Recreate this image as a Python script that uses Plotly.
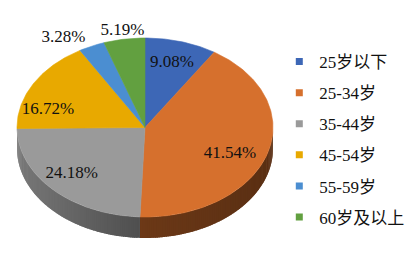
import numpy as np
import plotly.graph_objects as go

# ---- data ----
categories = ["25岁以下", "25-34岁", "35-44岁", "45-54岁", "55-59岁", "60岁及以上"]
shares = [9.08, 41.54, 24.18, 16.72, 3.28, 5.19]
labels = ["9.08%", "41.54%", "24.18%", "16.72%", "3.28%", "5.19%"]

# ---- style ----
colors = ["#3D67B6", "#D6702D", "#9A9A9A", "#E8A900", "#4B8ED1", "#62A040"]
label_r = [0.75, 0.72, 0.80, 0.87, 1.10, 1.09]
label_shift = [(0, 0), (-3, 7), (0, -4), (0, 20), (-23, 0), (0, 0)]
CX, CY, RX, RY, DEPTH = 145, 127.5, 128, 89.5, 21
W, H = 420, 280
SERIF = "Liberation Serif"


def pt(theta_deg, r=1.0, dy=0.0):
    t = np.radians(theta_deg)
    return CX + r * RX * np.sin(t), CY - r * RY * np.cos(t) + dy


def shade(hexcol, f):
    h = hexcol.lstrip("#")
    rgb = [int(h[i:i + 2], 16) for i in (0, 2, 4)]
    return "rgb({},{},{})".format(*[max(0, min(255, int(round(c * f)))) for c in rgb])


total = sum(shares)
bounds = np.concatenate([[0], np.cumsum(shares) / total * 360])

fig = go.Figure()

# side walls (visible lower half: 90..270 deg clockwise from top)
step = 1.0
for i, col in enumerate(colors):
    a, b = max(bounds[i], 90), min(bounds[i + 1], 270)
    if b <= a:
        continue
    edges = np.arange(a, b, step).tolist() + [b]
    for k, (s0, s1) in enumerate(zip(edges[:-1], edges[1:])):
        mid = np.radians((s0 + s1) / 2)
        sn = np.sin(mid)
        f = 0.5 - 0.08 * sn if sn > 0 else 0.5 + 0.28 * (-sn)
        s1e = min(s1 + 0.8, b)
        th = np.linspace(s0, s1e, 3)
        xt, yt = pt(th)
        xb, yb = pt(th[::-1], dy=DEPTH)
        c = shade(col, f)
        fig.add_trace(go.Scatter(
            x=np.concatenate([xt, xb, xt[:1]]), y=np.concatenate([yt, yb, yt[:1]]),
            mode="none", fill="toself", fillcolor=c,
            hoverinfo="skip", showlegend=False))

# top face slices
for i, col in enumerate(colors):
    th = np.linspace(bounds[i], bounds[i + 1], max(3, int(shares[i] * 4)))
    xa, ya = pt(th)
    fig.add_trace(go.Scatter(
        x=np.concatenate([[CX], xa, [CX]]), y=np.concatenate([[CY], ya, [CY]]),
        mode="lines", fill="toself", fillcolor=col, line=dict(color=col, width=0.6),
        hoverinfo="skip", showlegend=False))

# labels
lx, ly = [], []
for i in range(len(shares)):
    mid = (bounds[i] + bounds[i + 1]) / 2
    x, y = pt(mid, r=label_r[i])
    lx.append(x + label_shift[i][0])
    ly.append(y + label_shift[i][1])
fig.add_trace(go.Scatter(
    x=lx, y=ly, mode="text", text=labels, textposition="middle center",
    textfont=dict(family=SERIF, size=17, color="#111111"),
    hoverinfo="skip", showlegend=False))

# legend entries
for i, cat in enumerate(categories):
    fig.add_trace(go.Scatter(
        x=[None], y=[None], mode="markers", name=cat, legendgroup=cat,
        marker=dict(symbol="square", size=7, color=colors[i])))

fig.update_layout(
    width=W, height=H, margin=dict(l=0, r=0, t=0, b=0),
    paper_bgcolor="white", plot_bgcolor="white",
    xaxis=dict(range=[0, W], visible=False, fixedrange=True),
    yaxis=dict(range=[H, 0], visible=False, fixedrange=True),
    legend=dict(x=0.665, y=1 - 44 / H, xanchor="left", yanchor="top",
                font=dict(family=SERIF + ", Noto Sans CJK SC", size=17, color="#111111"),
                tracegroupgap=6, itemwidth=30, bgcolor="rgba(0,0,0,0)"),
    showlegend=True,
)

fig.write_html("out.html")
